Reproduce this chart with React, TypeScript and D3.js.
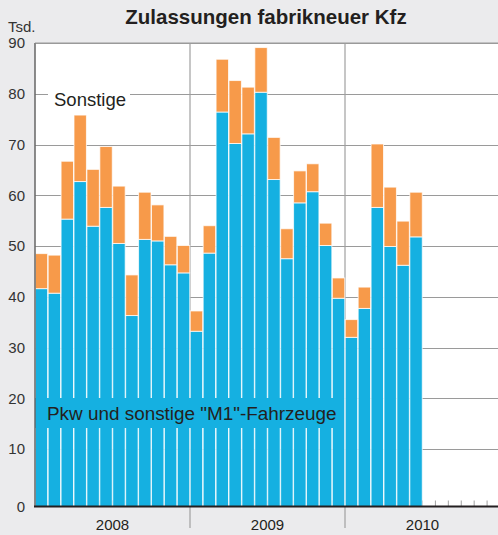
import React from 'react';
import * as d3 from 'd3';

const years = ['2008', '2009', '2010'];
const monthsPerYear = 12;

// Tsd. neu zugelassene Fahrzeuge pro Monat, Jan 2008 bis Jun 2010
const pkw = [
  41.6, 40.7, 55.3, 62.7, 53.9, 57.6, 50.5, 36.3, 51.3, 51.0, 46.3, 44.7,
  33.2, 48.6, 76.4, 70.2, 72.1, 80.3, 63.1, 47.5, 58.5, 60.7, 50.1, 39.7,
  32.0, 37.7, 57.6, 49.9, 46.2, 51.8,
];
const sonstige = [
  6.9, 7.5, 11.4, 13.1, 11.2, 12.0, 11.3, 8.0, 9.3, 7.1, 5.6, 5.4,
  4.0, 5.4, 10.4, 12.4, 9.2, 8.8, 8.3, 5.9, 6.3, 5.5, 4.4, 4.0,
  3.5, 4.2, 12.5, 11.7, 8.7, 8.8,
];
const yTicks = [0, 10, 20, 30, 40, 50, 60, 70, 80, 90];

const W = 498;
const H = 535;
const margin = {top: 43, right: -2, bottom: 28, left: 35};
const font = '"Liberation Sans", Arial, Helvetica, sans-serif';
const blue = '#15b0e1';
const orange = '#f79a4a';

const App = () => {
  const months = years.flatMap(y => d3.range(monthsPerYear).map(m => `${y}-${m + 1}`));
  const rows = pkw.map((p, i) => ({month: months[i], pkw: p, sonstige: sonstige[i]}));
  const series = d3.stack<any>().keys(['pkw', 'sonstige'])(rows);

  const x = d3.scaleBand().domain(months).range([margin.left, W - margin.right]);
  const base = H - margin.bottom - 0.5;
  // the zero line sits a bit lower than the regular tick spacing
  const y = d3.scaleLinear().domain([0, 10, 90]).range([base, 449, margin.top]);
  const bw = x.bandwidth();
  const yearStart = (yr: string) => x(`${yr}-1`) as number;
  const right = W - margin.right;

  return (
    <svg width={W} height={H} style={{position: 'absolute', left: 0, top: 0}} fontFamily={font}>
      <rect width={W} height={H} fill="#ebebed" />
      <rect x={margin.left} y={margin.top} width={right - margin.left} height={base - margin.top} fill="#fff" />

      <text x={266} y={24} textAnchor="middle" fontSize={20.5} fontWeight="bold" fill="#231f20">
        Zulassungen fabrikneuer Kfz
      </text>
      <text x={8} y={32} fontSize={15} fill="#333">Tsd.</text>

      {/* gridlines */}
      {yTicks.slice(1).map(t => (
        <line key={t} x1={margin.left} x2={right} y1={Math.round(y(t)) + 0.5} y2={Math.round(y(t)) + 0.5} stroke="#9a9a9a" strokeWidth={1} />
      ))}
      {years.slice(1).map(yr => (
        <line key={yr} x1={yearStart(yr)} x2={yearStart(yr)} y1={margin.top} y2={H - 7} stroke="#a0a0a0" strokeWidth={1.2} />
      ))}

      {/* month ticks */}
      {months.slice(1).map(m => (
        <line key={m} x1={x(m)} x2={x(m)} y1={base - 6} y2={base} stroke="#888" strokeWidth={0.8} />
      ))}

      <rect x={48} y={86} width={82} height={26} fill="#fff" />
      <text x={54} y={106} fontSize={18.5} fill="#231f20">Sonstige</text>

      {/* bars */}
      {series.map(s => (
        <g key={s.key} fill={s.key === 'pkw' ? blue : orange}>
          {s.map((d, i) => (
            <rect
              key={i}
              x={(x(months[i]) as number) + 0.25}
              y={y(d[1])}
              width={bw - 0.5}
              height={y(d[0]) - y(d[1])}
              stroke="#fff"
              strokeOpacity={0.75}
              strokeWidth={1}
            />
          ))}
        </g>
      ))}

      <rect x={margin.left} y={398} width={307} height={30} fill={blue} />
      <text x={47} y={420} fontSize={18.9} fill="#231f20">Pkw und sonstige "M1"-Fahrzeuge</text>

      {/* axes */}
      <line x1={margin.left} x2={margin.left} y1={margin.top} y2={base} stroke="#666" strokeWidth={1.5} />
      <line x1={margin.left} x2={right} y1={margin.top} y2={margin.top} stroke="#999" strokeWidth={1} />
      <line x1={margin.left - 1} x2={right} y1={base} y2={base} stroke="#231f20" strokeWidth={2.2} />

      {yTicks.map(t => (
        <text key={t} x={25} y={y(t)} dy="0.36em" textAnchor="end" fontSize={15} fill="#333">
          {t}
        </text>
      ))}
      {years.map(yr => (
        <text key={yr} x={yearStart(yr) + (bw * monthsPerYear) / 2} y={530} textAnchor="middle" fontSize={15} fill="#231f20">
          {yr}
        </text>
      ))}
    </svg>
  );
};

export default App;
